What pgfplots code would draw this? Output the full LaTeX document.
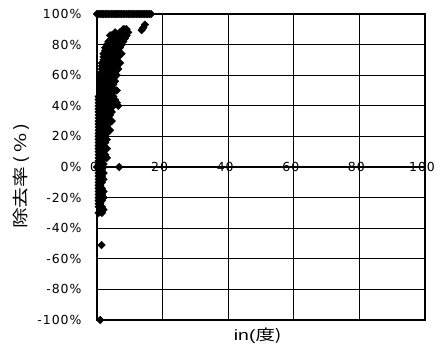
\documentclass[border=0pt]{standalone}
\usepackage{pgfplots}
\pgfplotsset{compat=1.18}
\usepackage{graphicx}
\usepackage{fontspec}
\setmainfont{Liberation Sans}
\newfontfamily\cjk{Noto Sans CJK JP}
\newfontfamily\tickfont[LetterSpace=8]{DejaVu Sans}
\begin{document}
\begin{tikzpicture}
\begin{axis}[
 scale only axis, width=328bp, height=306bp,
 xmin=0, xmax=100, ymin=-100, ymax=100,
 xtick={0,20,40,60,80,100},
 xticklabels={0,20,40,60,80,100},
 ytick={-100,-80,-60,-40,-20,0,20,40,60,80,100},
 yticklabels={-100\%,-80\%,-60\%,-40\%,-20\%,0\%,20\%,40\%,60\%,80\%,100\%},
 major tick length=0,
 grid=major, grid style={black, line width=1.1bp},
 axis line style={black, line width=1.5bp},
 tick label style={font=\tickfont\fontsize{12.5}{13}\selectfont},
 x tick label style={anchor=center, yshift=153bp, xshift=-3bp},
 y tick label style={xshift=-12bp},
 xlabel={\scalebox{1.3}[1]{in(\cjk 度)}},
 ylabel={\scalebox{1.3}[1]{\cjk 除去率\,(\,\%\,)}},
 x label style={font=\fontsize{15}{16}\selectfont, at={(axis description cs:0.49,0)}, anchor=center, yshift=-16bp},
 y label style={font=\fontsize{16}{17}\selectfont, at={(axis description cs:-0.232,0.47)}, anchor=center},
 clip=false,
]
\addplot[only marks, mark=square*, mark options={rotate=45}, mark size=2.7bp, black] coordinates {
(0,100)(0.5,100)(1,100)(1.5,100)(2,100)(2.5,100)(3,100)(3.5,100)(4,100)(4.5,100)(5,100)(5.5,100)(6,100)(6.5,100)(7,100)(7.5,100)(8,100)(8.5,100)(9,100)(9.5,100)(10,100)(10.5,100)(11,100)(11.5,100)(12,100)(12.5,100)(13,100)(13.5,100)(14,100)(14.5,100)(15,100)(15.5,100)(16,100)(16.5,100)
(13.6,89.5)(14.6,93)(14.1,91)
(8,90)(8.5,90)(9,90)
(5.5,88)(7,88)(7.5,88)(8.5,88)(9.5,88)
(4,86)(4.5,86)(6,86)(7,86)(8,86)(9,86)
(4.5,84)(5.5,84)(6.5,84)(7.5,84)(8.5,84)
(3.5,82)(4,82)(5,82)(6,82)(7,82)(8,82)
(3,80)(4.5,80)(5.5,80)(6.5,80)(7.5,80)
(2.5,78)(3.5,78)(4.5,78)(5.5,78)(7,78)
(2.5,76)(3,76)(4,76)(5,76)(6.5,76)
(2,74)(3,74)(4,74)(5,74)(6,74)(7.5,74)
(2,72)(3.5,72)(4.5,72)(5.5,72)(6.5,72)
(2,70)(3,70)(4,70)(5,70)(6,70)
(1.5,68)(2.5,68)(3.5,68)(4.5,68)(5.5,68)(7,68)
(1.5,66)(2.5,66)(3.5,66)(5,66)(6,66)
(1.5,64)(2,64)(3,64)(4,64)(5,64)(6.5,64)
(1.5,62)(2.5,62)(3.5,62)(4.5,62)(5.5,62)
(1,60)(2,60)(3,60)(4,60)(5,60)(6,60)
(1,58)(2,58)(3,58)(4,58)(5,58)
(1,56)(1.5,56)(2.5,56)(3.5,56)(4.5,56)(5.5,56)
(1,54)(2,54)(3,54)(4,54)(5,54)
(1,52)(1.5,52)(2.5,52)(3.5,52)(4.5,52)
(1,50)(2,50)(3,50)(4,50)(5,50)(6,50)
(1,48)(1.5,48)(2.5,48)(3.5,48)(4.5,48)
(0.5,46)(1.5,46)(2.5,46)(3.5,46)(5,46)
(0.5,44)(1.5,44)(2,44)(3,44)(4,44)(5.5,44)
(0.5,42)(1,42)(2,42)(3,42)(4.5,42)(6,42)
(0.5,40)(1.5,40)(2.5,40)(3.5,40)(5,40)(6.5,40)
(0.5,38)(1,38)(2,38)(3,38)(4,38)
(0.5,36)(1.5,36)(2.5,36)(3.5,36)(4.5,36)
(0.5,34)(1,34)(2,34)(3,34)(4,34)
(0.5,32)(1.5,32)(2.5,32)(3.5,32)
(0.5,30)(1,30)(2,30)(3,30)(4.5,30)
(0.5,28)(1.5,28)(2.5,28)(3.5,28)
(0.5,26)(1,26)(2,26)(3,26)
(0.5,24)(1.5,24)(2.5,24)(4,24)
(0.5,22)(1,22)(2,22)(3,22)
(0.5,20)(1.5,20)(2.5,20)
(0.5,18)(1,18)(2,18)(3,18)
(0.5,16)(1.5,16)(2.5,16)
(0.5,14)(1,14)(2,14)
(0.5,12)(1.5,12)(2.5,12)(3,12)
(0.5,10)(1,10)(2,10)
(0.5,8)(1.5,8)(2.5,8)
(0.5,6)(1,6)(2,6)(3,6)
(0.5,4)(1.5,4)
(0.5,2)(1,2)(2,2)
(0,0)(0.5,0)(1,0)(1.5,0)(2,0)(6.8,0)
(0.5,-2)(1.5,-2)
(0.5,-4)(1,-4)(2,-4)
(0.5,-6)(1.5,-6)
(0.5,-8)(1,-8)(2,-8)
(0.5,-10)(1.5,-10)
(0.5,-12)(1,-12)
(0.5,-14)(1.5,-14)
(0.5,-16)(1,-16)(2,-16)
(0.5,-18)(1.5,-18)
(0.5,-20)(1,-20)(2,-20)
(0.5,-22)(1.5,-22)
(0.5,-24)(1,-24)
(0.5,-26)(1.5,-26)
(1,-28)(2,-28)
(0.5,-30)(1.5,-30)
(1.4,-51)
(1,-100)
};
\end{axis}
\pgfresetboundingbox
\path[use as bounding box] ([xshift=-97bp,yshift=-30bp]current axis.south west) rectangle ([xshift=16bp,yshift=14bp]current axis.north east);
\end{tikzpicture}
\end{document}
